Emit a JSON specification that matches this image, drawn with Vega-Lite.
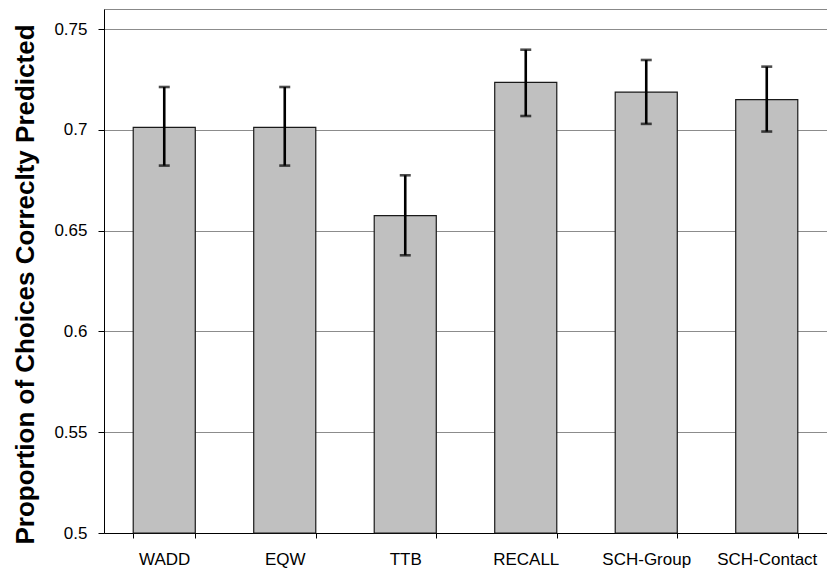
{
  "$schema": "https://vega.github.io/schema/vega-lite/v6.json",
  "width": 723,
  "height": 524,
  "autosize": {"type": "none"},
  "padding": {"left": 104, "top": 9, "right": 0, "bottom": 39},
  "background": "white",
  "config": {
    "view": {"stroke": "#888888", "strokeWidth": 1},
    "axis": {
      "labelFont": "Liberation Sans",
      "labelColor": "black",
      "domainColor": "black",
      "tickColor": "black",
      "gridColor": "#8c8c8c",
      "gridWidth": 1
    }
  },
  "data": {
    "values": [
      {"model": "WADD", "value": 0.7013, "lo": 0.6823, "hi": 0.7213},
      {"model": "EQW", "value": 0.7013, "lo": 0.6823, "hi": 0.7213},
      {"model": "TTB", "value": 0.6575, "lo": 0.6378, "hi": 0.6775},
      {"model": "RECALL", "value": 0.7236, "lo": 0.7069, "hi": 0.7398},
      {"model": "SCH-Group", "value": 0.7188, "lo": 0.703, "hi": 0.7347},
      {"model": "SCH-Contact", "value": 0.715, "lo": 0.6992, "hi": 0.7314}
    ]
  },
  "encoding": {
    "x": {
      "field": "model",
      "type": "nominal",
      "sort": null,
      "scale": {"paddingInner": 0.485, "paddingOuter": 0.2425},
      "axis": {
        "title": null,
        "labelAngle": 0,
        "labelFontSize": 17,
        "labelPadding": 13,
        "tickSize": 5,
        "tickBand": "extent",
        "domainWidth": 1,
        "grid": false
      }
    }
  },
  "layer": [
    {
      "mark": {"type": "bar", "fill": "#c0c0c0", "stroke": "#1a1a1a", "strokeWidth": 1.2},
      "encoding": {
        "y": {
          "field": "value",
          "type": "quantitative",
          "scale": {"domain": [0.5, 0.76], "zero": false, "nice": false},
          "axis": {
            "title": "Proportion of Choices Correclty Predicted",
            "titleFont": "Liberation Sans",
            "titleFontWeight": "bold",
            "titleFontSize": 26,
            "titleColor": "black",
            "titleAngle": -90,
            "titleBaseline": "middle",
            "titleAlign": "center",
            "titleX": -79,
            "titleY": 275,
            "values": [0.5, 0.55, 0.6, 0.65, 0.7, 0.75],
            "format": ".2~f",
            "labelFontSize": 17,
            "labelPadding": 11,
            "tickSize": 6,
            "grid": true
          }
        },
        "y2": {"datum": 0.5}
      }
    },
    {
      "mark": {"type": "rule", "color": "black", "strokeWidth": 2.6},
      "encoding": {
        "y": {"field": "lo", "type": "quantitative"},
        "y2": {"field": "hi"}
      }
    },
    {
      "mark": {"type": "tick", "color": "black", "thickness": 2.6, "size": 11},
      "encoding": {
        "y": {"field": "lo", "type": "quantitative"}
      }
    },
    {
      "mark": {"type": "tick", "color": "black", "thickness": 2.6, "size": 11},
      "encoding": {
        "y": {"field": "hi", "type": "quantitative"}
      }
    }
  ]
}
